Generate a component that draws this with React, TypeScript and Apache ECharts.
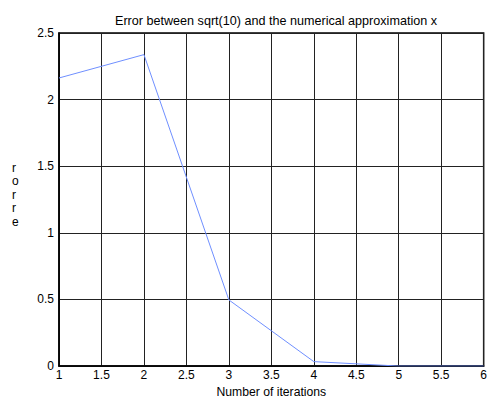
import React, { useEffect, useRef } from "react";
import * as echarts from "echarts";

const iterations = [1, 2, 3, 4, 5, 6];
const errors = [2.1623, 2.3377, 0.4968, 0.0337, 0.00018, 0.000000005];
const xTicks = [1, 1.5, 2, 2.5, 3, 3.5, 4, 4.5, 5, 5.5, 6];
const yTicks = [0, 0.5, 1, 1.5, 2, 2.5];
const titleText = "Error between sqrt(10) and the numerical approximation x";
const xLabel = "Number of iterations";
const yLabelLetters = ["r", "o", "r", "r", "e"];

const FONT = "'Liberation Sans', Arial, Helvetica, sans-serif";

export default function App() {
  const ref = useRef<HTMLDivElement>(null);
  useEffect(() => {
    document.body.style.margin = "0";
    const chart = echarts.init(ref.current!, undefined, { renderer: "svg" });
    chart.setOption({
      animation: false,
      backgroundColor: "#ffffff",
      title: {
        text: titleText,
        left: 271,
        top: 9,
        textAlign: "center",
        textStyle: { fontFamily: FONT, fontSize: 12.6, fontWeight: "normal", color: "#000" },
      },
      graphic: [
        {
          type: "text",
          left: 12,
          top: 161,
          style: {
            text: yLabelLetters.join("\n"),
            fontFamily: FONT,
            fontSize: 12,
            lineHeight: 13.5,
            fill: "#000",
          },
        },
      ],
      grid: {
        left: 59,
        right: 3,
        top: 33,
        bottom: 34,
        show: true,
        borderColor: "#000",
        borderWidth: 1.5,
        backgroundColor: "transparent",
      },
      xAxis: {
        type: "value",
        min: xTicks[0],
        max: xTicks[xTicks.length - 1],
        interval: 0.5,
        name: xLabel,
        nameLocation: "middle",
        nameGap: 17,
        nameTextStyle: { fontFamily: FONT, fontSize: 12.2, color: "#000" },
        axisLine: { show: true, lineStyle: { color: "#000", width: 1.5 } },
        axisTick: { show: false },
        splitLine: { show: true, lineStyle: { color: "#222", width: 1 } },
        axisLabel: {
          fontFamily: FONT,
          fontSize: 12,
          color: "#000",
          margin: 3,
          formatter: (v: number) => String(v),
        },
      },
      yAxis: {
        type: "value",
        min: yTicks[0],
        max: yTicks[yTicks.length - 1],
        interval: 0.5,
        axisLine: { show: true, lineStyle: { color: "#000", width: 1.5 } },
        axisTick: { show: false },
        splitLine: { show: true, lineStyle: { color: "#222", width: 1 } },
        axisLabel: {
          fontFamily: FONT,
          fontSize: 12,
          color: "#000",
          margin: 5,
          formatter: (v: number) => String(v),
        },
      },
      series: [
        {
          type: "line",
          data: iterations.map((x, i) => [x, errors[i]]),
          showSymbol: false,
          lineStyle: { color: "#6f8fff", width: 1 },
          z: 5,
        },
      ],
    });
    return () => chart.dispose();
  }, []);
  return <div ref={ref} style={{ width: 490, height: 403 }} />;
}
